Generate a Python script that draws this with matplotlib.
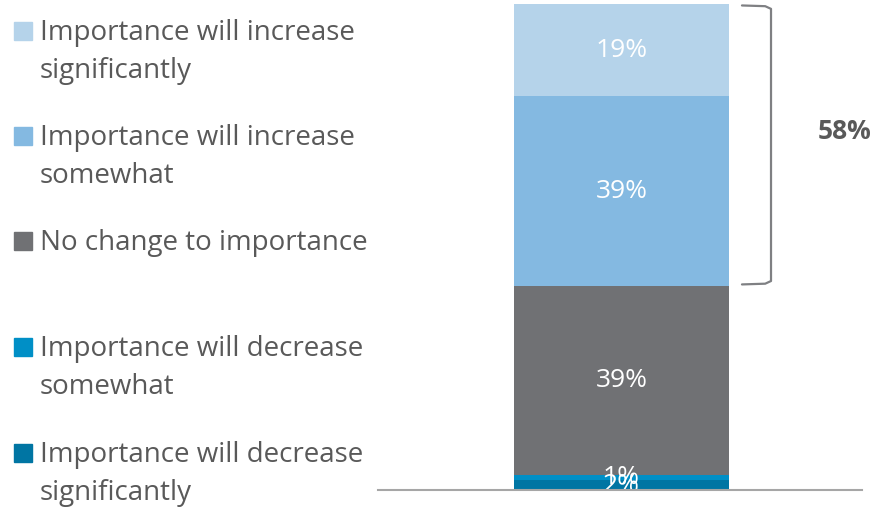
import matplotlib
matplotlib.use("Agg")
import matplotlib.pyplot as plt
from matplotlib.patches import Rectangle

plt.rcParams['font.family'] = ['Open Sans', 'DejaVu Sans']

# Stacked from bottom to top
categories = [
    "Importance will decrease\nsignificantly",
    "Importance will decrease\nsomewhat",
    "No change to importance",
    "Importance will increase\nsomewhat",
    "Importance will increase\nsignificantly",
]
values = [2, 1, 39, 39, 19]
colors = ["#0075a3", "#008fc6", "#707174", "#84b9e1", "#b5d3ea"]
bracket_total = values[3] + values[4]

W, H = 891, 507
fig = plt.figure(figsize=(W / 100, H / 100), dpi=100)
ax = fig.add_axes([378 / W, 1 - 490 / H, 484 / W, 486 / H])

bottom = 0
for cat, val, col in zip(categories, values, colors):
    ax.bar(0, val, bottom=bottom, width=0.444, color=col, edgecolor="none", zorder=2)
    ax.text(0, bottom + val / 2, f"{val}%", ha="center", va="center",
            color="white", fontsize=19, zorder=3)
    bottom += val

ax.set_xlim(-0.503, 0.497)
ax.set_ylim(0, 100)
for s in ["top", "right", "left"]:
    ax.spines[s].set_visible(False)
ax.spines["bottom"].set_color("#a6a6a6")
ax.spines["bottom"].set_linewidth(1.5)
ax.spines["bottom"].set_zorder(4)
ax.set_xticks([])
ax.set_yticks([])
ax.patch.set_alpha(0)

# Bracket around the "increase" segments
y0 = values[0] + values[1] + values[2]
y1 = y0 + bracket_total
xa, xb = 0.249, 0.309
ax.plot([xa, xb - 0.012, xb, xb, xb - 0.012, xa],
        [y1 - 0.3, y1 - 0.45, y1 - 1.0, y0 + 1.0, y0 + 0.45, y0 + 0.3],
        color="#7f8083", lw=1.6, solid_capstyle="round", solid_joinstyle="round",
        clip_on=False)
ax.text(0.462, (y0 + y1) / 2 + 2.8, f"{bracket_total}%", ha="center", va="center",
        color="#595959", fontsize=19, fontweight="bold", clip_on=False)

# Legend, listed top to bottom; baseline of each entry's first line
legend_baselines = [40, 145, 250, 356, 462]
line_step = 38
for cat, col, yb in zip(categories[::-1], colors[::-1], legend_baselines):
    fig.patches.append(Rectangle((14 / W, 1 - yb / H), 18 / W, 18 / H,
                                 transform=fig.transFigure, color=col))
    for i, line in enumerate(cat.split("\n")):
        fig.text(40 / W, 1 - (yb + i * line_step) / H, line, ha="left",
                 va="baseline", color="#595959", fontsize=20)

fig.savefig("out.png", dpi=100)
